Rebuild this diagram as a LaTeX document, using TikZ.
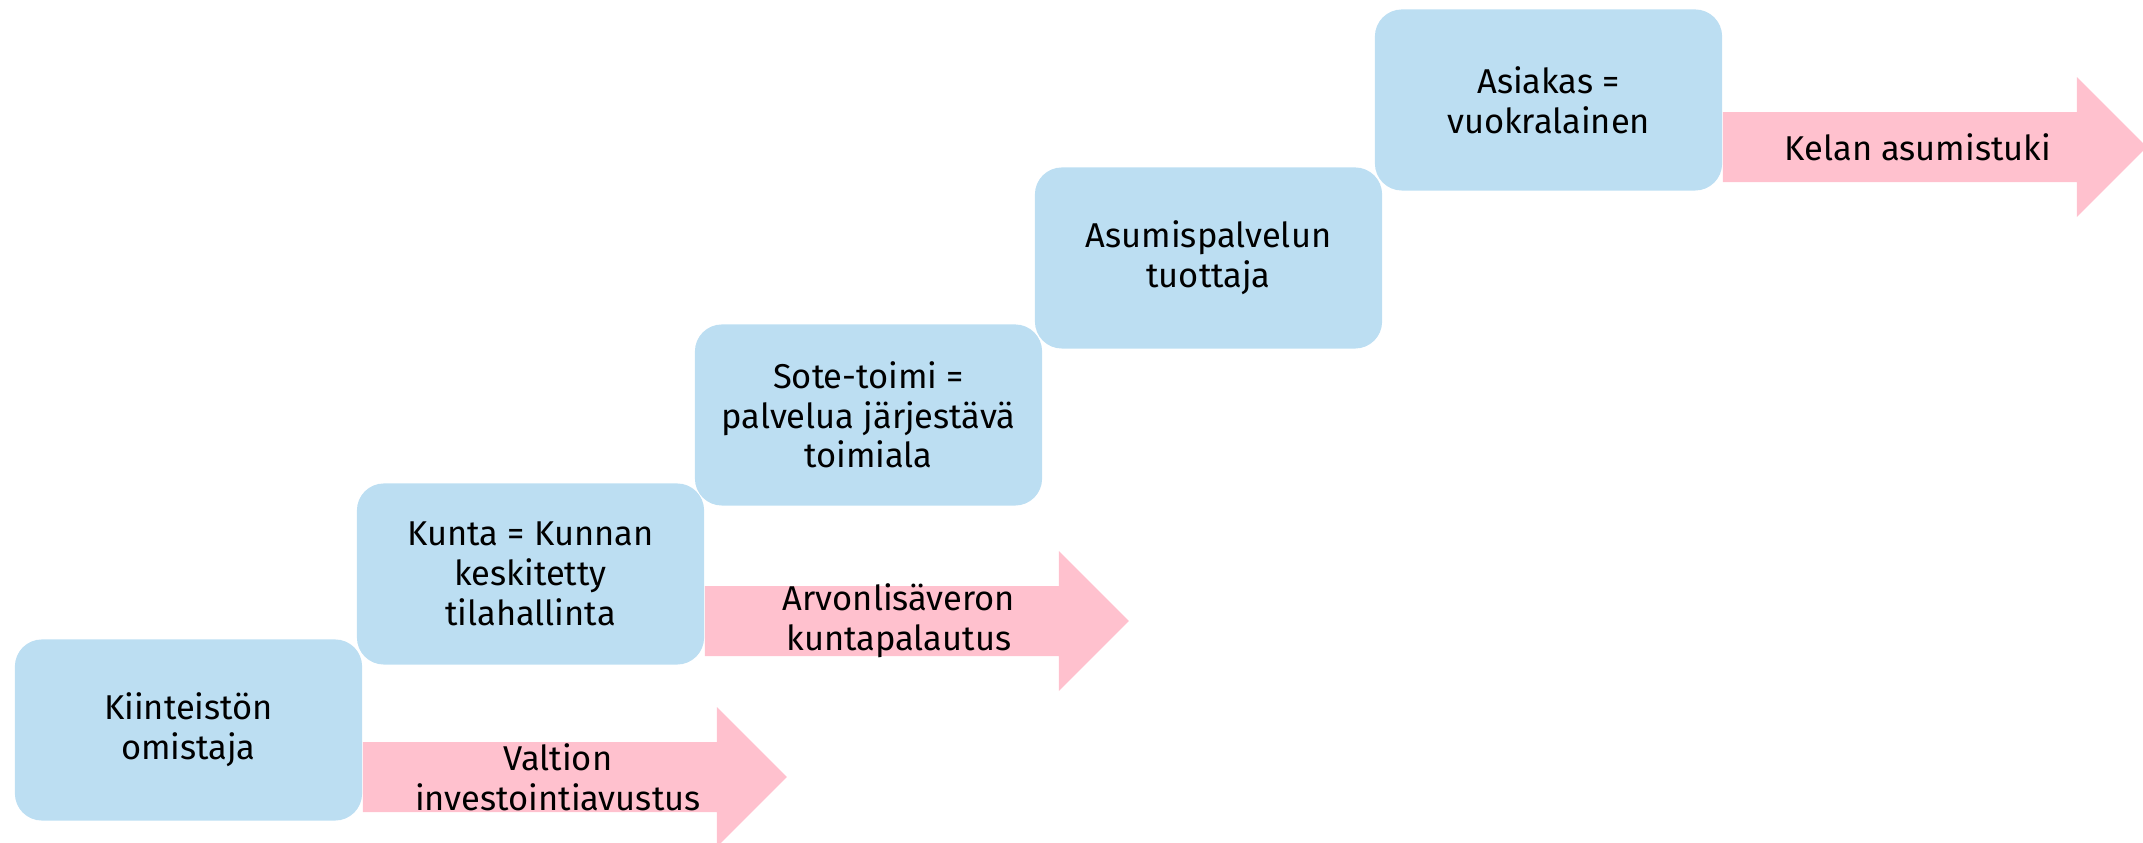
\documentclass[tikz,border=0pt]{standalone}
\usepackage{fontspec}
\setmainfont{Fira Sans}
\definecolor{boxblue}{RGB}{188,222,242}
\definecolor{arrpink}{RGB}{255,193,206}
\begin{document}
\begin{tikzpicture}[x=0.01cm,y=0.01cm,
  stepbox/.style={fill=boxblue, rounded corners=0.27cm, minimum width=3.47cm, minimum height=1.81cm,
    align=center, inner sep=0pt, font=\fontsize{9.8}{11.3}\selectfont},
  arrtext/.style={align=center, inner sep=0pt, font=\fontsize{9.8}{11.3}\selectfont},
  arrfill/.style={fill=arrpink}]
\useasboundingbox (0,0) rectangle (2143,843);
\node[stepbox] (b1) at (188.5,113) {Kiinteistön\\omistaja};
\node[stepbox] (b2) at (530.5,269) {Kunta = Kunnan\\keskitetty\\tilahallinta};
\node[stepbox] (b3) at (868.5,428) {Sote-toimi =\\palvelua järjestävä\\toimiala};
\node[stepbox] (b4) at (1208.5,585) {Asumispalvelun\\tuottaja};
\node[stepbox] (b5) at (1548.5,743) {Asiakas =\\vuokralainen};
\foreach \b/\a in {b1/a1,b2/a2,b5/a3}{
  \coordinate (\a) at ([yshift=-0.47cm]\b.east);
  \fill[arrfill] (\a) ++(0,-35) -- ++(354,0) -- ++(0,-35) -- ++(70,70) -- ++(-70,70) -- ++(0,-35) -- ++(-354,0) -- cycle;
}
\node[arrtext] (t1) at ([xshift=1.95cm]a1) {Valtion\\investointiavustus};
\node[arrtext] (t2) at ([xshift=1.94cm]a2) {Arvonlisäveron\\kuntapalautus};
\node[arrtext] (t3) at ([xshift=1.95cm]a3) {Kelan asumistuki};
\end{tikzpicture}
\end{document}
